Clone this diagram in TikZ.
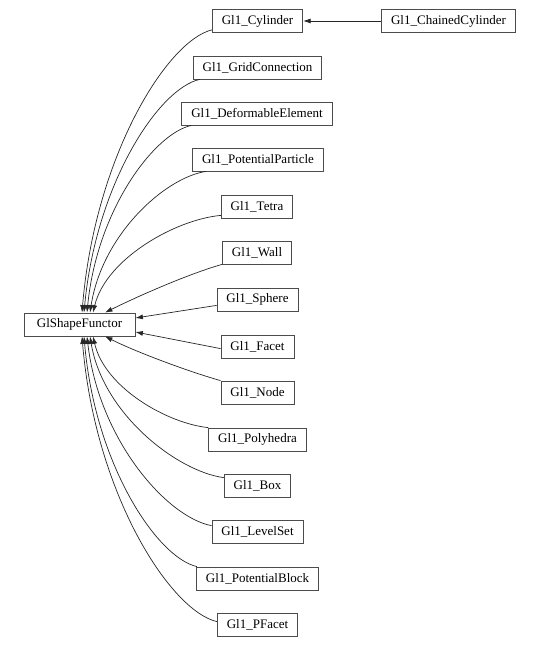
\documentclass[tikz,border=0pt]{standalone}
\usepackage{fontspec}
\setmainfont{Liberation Serif}
\usetikzlibrary{arrows.meta}
\begin{document}
\begin{tikzpicture}[x=1pt,y=-1pt,
  cls/.style={draw=black!70,line width=0.8pt,fill=white,minimum height=23pt,inner xsep=9.5pt,inner ysep=0pt,font=\fontsize{13}{15}\selectfont},
  inh/.style={line width=0.7pt,draw=black!85,-{Latex[length=7.5pt,width=5pt]}}]
\useasboundingbox (0,0) rectangle (541,650);
\node[cls] (cyl) at (257.5,21) {Gl1\_Cylinder};
\node[cls] (chain) at (448.5,21) {Gl1\_ChainedCylinder};
\node[cls] (grid) at (257.5,67.5) {Gl1\_GridConnection};
\node[cls] (def) at (257,113.5) {Gl1\_DeformableElement};
\node[cls] (pp) at (258,159.5) {Gl1\_PotentialParticle};
\node[cls] (tetra) at (257,206.5) {Gl1\_Tetra};
\node[cls] (wall) at (257,252.5) {Gl1\_Wall};
\node[cls] (sphere) at (257.5,299.5) {Gl1\_Sphere};
\node[cls,minimum width=111pt] (gsf) at (79.5,324.5) {GlShapeFunctor};
\node[cls] (facet) at (257.5,346.5) {Gl1\_Facet};
\node[cls] (nd) at (257.5,392.5) {Gl1\_Node};
\node[cls] (poly) at (257.5,439.5) {Gl1\_Polyhedra};
\node[cls] (bx) at (257.5,485.5) {Gl1\_Box};
\node[cls] (ls) at (257.5,531.5) {Gl1\_LevelSet};
\node[cls] (pb) at (257.5,578.5) {Gl1\_PotentialBlock};
\node[cls] (pf) at (257.5,624.5) {Gl1\_PFacet};
% targets on GlShapeFunctor
\coordinate (t1) at ([xshift=2.5pt]gsf.north);
\coordinate (t2) at ([xshift=4.5pt]gsf.north);
\coordinate (t3) at ([xshift=7.5pt]gsf.north);
\coordinate (t4) at ([xshift=10.5pt]gsf.north);
\coordinate (t5) at ([xshift=13.5pt]gsf.north);
\coordinate (t6) at ([xshift=25.5pt]gsf.north);
\coordinate (b1) at ([xshift=25.5pt]gsf.south);
\coordinate (b2) at ([xshift=13.5pt]gsf.south);
\coordinate (b3) at ([xshift=10.5pt]gsf.south);
\coordinate (b4) at ([xshift=7.5pt]gsf.south);
\coordinate (b5) at ([xshift=4.5pt]gsf.south);
\coordinate (b6) at ([xshift=2.5pt]gsf.south);
\draw[inh] (chain.west) -- (cyl.east);
\draw[inh] ([yshift=3pt]cyl.south west) .. controls +(-45,11) and +(13,-156) .. (t1);
\draw[inh] ([xshift=7pt]grid.south west) .. controls +(-41,9) and +(12,-129) .. (t2);
\draw[inh] ([xshift=10pt]def.south west) .. controls +(-37,8) and +(10,-103) .. (t3);
\draw[inh] ([xshift=14pt]pp.south west) .. controls +(-41,6) and +(12,-78) .. (t4);
\draw[inh] ([yshift=3pt]tetra.south west) .. controls +(-45,4) and +(13,-54) .. (t5);
\draw[inh] (wall.south west) .. controls +(-35,10) and +(30,-15) .. (t6);
\draw[inh] ([yshift=6pt]sphere.south west) -- ([yshift=6.5pt]gsf.east);
\draw[inh] ([yshift=-14pt]facet.north west) -- ([yshift=-7.5pt]gsf.east);
\draw[inh] (nd.north west) .. controls +(-35,-10) and +(30,15) .. (b1);
\draw[inh] (poly.north west) .. controls +(-40,-4) and +(12,52) .. (b2);
\draw[inh] ([yshift=-4pt]bx.north west) .. controls +(-46,-6) and +(13,78) .. (b3);
\draw[inh] ([yshift=-6pt]ls.north west) .. controls +(-44,-8) and +(12,104) .. (b4);
\draw[inh] ([xshift=1pt]pb.north west) .. controls +(-40,-9) and +(11,128) .. (b5);
\draw[inh] ([yshift=-9pt]pf.north west) .. controls +(-47,-11) and +(13,157) .. (b6);
\end{tikzpicture}
\end{document}
